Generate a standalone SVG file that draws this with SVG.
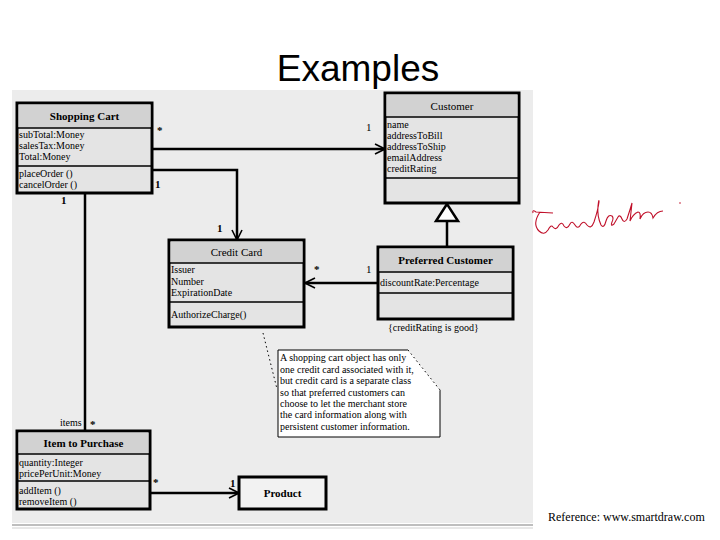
<svg xmlns="http://www.w3.org/2000/svg" width="720" height="540" viewBox="0 0 720 540">
<style>
.panel{fill:#ececec}
.box{fill:#e4e4e4;stroke:#000;stroke-width:3}
.hdr{fill:#d2d2d2}
.div{stroke:#000;stroke-width:1.5}
.t{font-family:"Liberation Serif",serif;font-size:10px;fill:#000}
.b{font-family:"Liberation Serif",serif;font-size:11px;font-weight:bold;fill:#000}
.n{font-family:"Liberation Serif",serif;font-size:11px;font-weight:normal;fill:#000}
.lbl{font-family:"Liberation Serif",serif;font-size:11px;font-weight:bold;fill:#000}
.conn{fill:none;stroke:#000;stroke-width:2.5}
.dot{fill:none;stroke:#000;stroke-width:1;stroke-dasharray:1.5 3}
</style>
<defs>
<marker id="open" viewBox="0 0 12 12" refX="11" refY="6" markerWidth="12" markerHeight="12" markerUnits="userSpaceOnUse" orient="auto">
<path d="M1,1 L11,6 L1,11" fill="none" stroke="#000" stroke-width="1.6"/>
</marker>
</defs>
<rect x="0" y="0" width="720" height="540" fill="#fff"/>
<text x="358" y="81" text-anchor="middle" font-family="Liberation Sans, sans-serif" font-size="37" fill="#000">Examples</text>
<rect class="panel" x="12" y="90" width="521" height="433"/>
<line x1="12" y1="525" x2="533" y2="525" stroke="#a8a8a8" stroke-width="1.5"/>
<line x1="12" y1="528" x2="533" y2="528" stroke="#d0d0d0" stroke-width="1"/>

<g id="connectors">
<path class="conn" d="M152,149 L385,149" marker-end="url(#open)"/>
<path class="conn" d="M152,170 L237,170 L237,240" marker-end="url(#open)"/>
<path class="conn" d="M85,193 L85,431"/>
<path class="conn" d="M378,283 L305,283" marker-end="url(#open)"/>
<path class="conn" d="M150,493 L239,493" marker-end="url(#open)"/>
<path class="conn" d="M447,247 L447,221"/>
<polygon points="447,204 436,221 458,221" fill="#fff" stroke="#000" stroke-width="2.5"/>
<path class="dot" d="M263,333 L277,389"/>
<text class="lbl" x="157" y="134">*</text>
<text class="n" x="366" y="131">1</text>
<text class="lbl" x="155" y="188">1</text>
<text class="lbl" x="217" y="232">1</text>
<text class="lbl" x="61" y="204">1</text>
<text class="lbl" x="314" y="273">*</text>
<text class="n" x="366" y="273">1</text>
<text class="t" x="60" y="426">items</text>
<text class="lbl" x="90" y="428">*</text>
<text class="lbl" x="153" y="486">*</text>
<text class="lbl" x="230" y="487">1</text>
</g>

<g id="shopping-cart">
<rect class="box" x="17" y="103" width="135" height="90"/>
<rect class="hdr" x="18.5" y="104.5" width="132" height="23"/>
<line class="div" x1="17" y1="128" x2="152" y2="128"/>
<line class="div" x1="17" y1="166" x2="152" y2="166"/>
<text class="b" x="84.5" y="120" text-anchor="middle">Shopping Cart</text>
<text class="t" x="19" y="138">subTotal:Money</text>
<text class="t" x="19" y="149">salesTax:Money</text>
<text class="t" x="19" y="160">Total:Money</text>
<text class="t" x="19" y="177">placeOrder ()</text>
<text class="t" x="19" y="188">cancelOrder ()</text>
</g>

<g id="customer">
<rect class="box" x="385" y="93" width="134" height="110"/>
<rect class="hdr" x="386.5" y="94.5" width="131" height="22"/>
<line class="div" x1="385" y1="117" x2="519" y2="117"/>
<line class="div" x1="385" y1="178" x2="519" y2="178"/>
<text class="n" x="452" y="110" text-anchor="middle">Customer</text>
<text class="t" x="387" y="128">name</text>
<text class="t" x="387" y="139">addressToBill</text>
<text class="t" x="387" y="150">addressToShip</text>
<text class="t" x="387" y="161">emailAddress</text>
<text class="t" x="387" y="172">creditRating</text>
</g>

<g id="credit-card">
<rect class="box" x="169" y="240" width="135" height="87"/>
<rect class="hdr" x="170.5" y="241.5" width="132" height="21"/>
<line class="div" x1="169" y1="263" x2="304" y2="263"/>
<line class="div" x1="169" y1="302" x2="304" y2="302"/>
<text class="n" x="236.5" y="256" text-anchor="middle">Credit Card</text>
<text class="t" x="171" y="273">Issuer</text>
<text class="t" x="171" y="285">Number</text>
<text class="t" x="171" y="296">ExpirationDate</text>
<text class="t" x="171" y="318">AuthorizeCharge()</text>
</g>

<g id="preferred-customer">
<rect class="box" x="378" y="247" width="135" height="72"/>
<rect class="hdr" x="379.5" y="248.5" width="132" height="23"/>
<line class="div" x1="378" y1="272" x2="513" y2="272"/>
<line class="div" x1="378" y1="293" x2="513" y2="293"/>
<text class="b" x="445.5" y="264" text-anchor="middle">Preferred Customer</text>
<text class="t" x="380" y="286">discountRate:Percentage</text>
<text class="t" x="388" y="331">{creditRating is good}</text>
</g>

<g id="note">
<path d="M278,350 L408,350 L440,390 L440,437 L278,437 Z" fill="#fff" stroke="#000" stroke-width="1"/>
<path d="M408,350 L440,390" fill="none" stroke="#fff" stroke-width="1.5"/>
<path class="dot" d="M408,350 L440,390"/>
<text class="t" x="280" y="361">A shopping cart object has only</text>
<text class="t" x="280" y="373">one credit card associated with it,</text>
<text class="t" x="280" y="384">but credit card is a separate class</text>
<text class="t" x="280" y="396">so that preferred customers can</text>
<text class="t" x="280" y="407">choose to let the merchant store</text>
<text class="t" x="280" y="418">the card information along with</text>
<text class="t" x="280" y="430">persistent customer information.</text>
</g>

<g id="item-to-purchase">
<rect class="box" x="17" y="431" width="133" height="78"/>
<rect class="hdr" x="18.5" y="432.5" width="130" height="21"/>
<line class="div" x1="17" y1="454" x2="150" y2="454"/>
<line class="div" x1="17" y1="481" x2="150" y2="481"/>
<text class="b" x="83.5" y="447" text-anchor="middle">Item to Purchase</text>
<text class="t" x="19" y="466">quantity:Integer</text>
<text class="t" x="19" y="477">pricePerUnit:Money</text>
<text class="t" x="19" y="494">addItem ()</text>
<text class="t" x="19" y="505">removeItem ()</text>
</g>

<g id="product">
<rect x="239" y="477" width="87" height="32" fill="#f2f2f2" stroke="#000" stroke-width="3"/>
<text class="b" x="282.5" y="497" text-anchor="middle">Product</text>
</g>

<g id="signature">
<path d="M533,213 Q532,209 536,212 L553,213 M540,212 Q532,224 539,231 Q544,236 548,230 Q551,224 553,227 Q556,231 559,225 Q562,221 564,226 Q567,230 570,224 Q572,220 575,225 Q578,230 581,224 Q584,220 587,225 Q591,230 594,222 Q598,210 599,202 Q599,198 598,206 Q597,216 601,225 Q604,229 606,221 Q608,214 612,216 Q614,218 612,222 Q610,227 614,224 L618,217 Q620,214 622,219 Q624,224 627,219 Q630,210 632,203 Q631,212 630,221 Q633,214 638,212 Q641,212 640,219 Q643,212 648,212 Q652,212 653,218 Q657,211 663,211" fill="none" stroke="#c0102a" stroke-width="1.1"/>
<circle cx="680" cy="203" r="0.8" fill="#c0102a"/>
</g>

<text x="548" y="521" font-family="Liberation Serif, serif" font-size="12" fill="#000">Reference: www.smartdraw.com</text>
</svg>
